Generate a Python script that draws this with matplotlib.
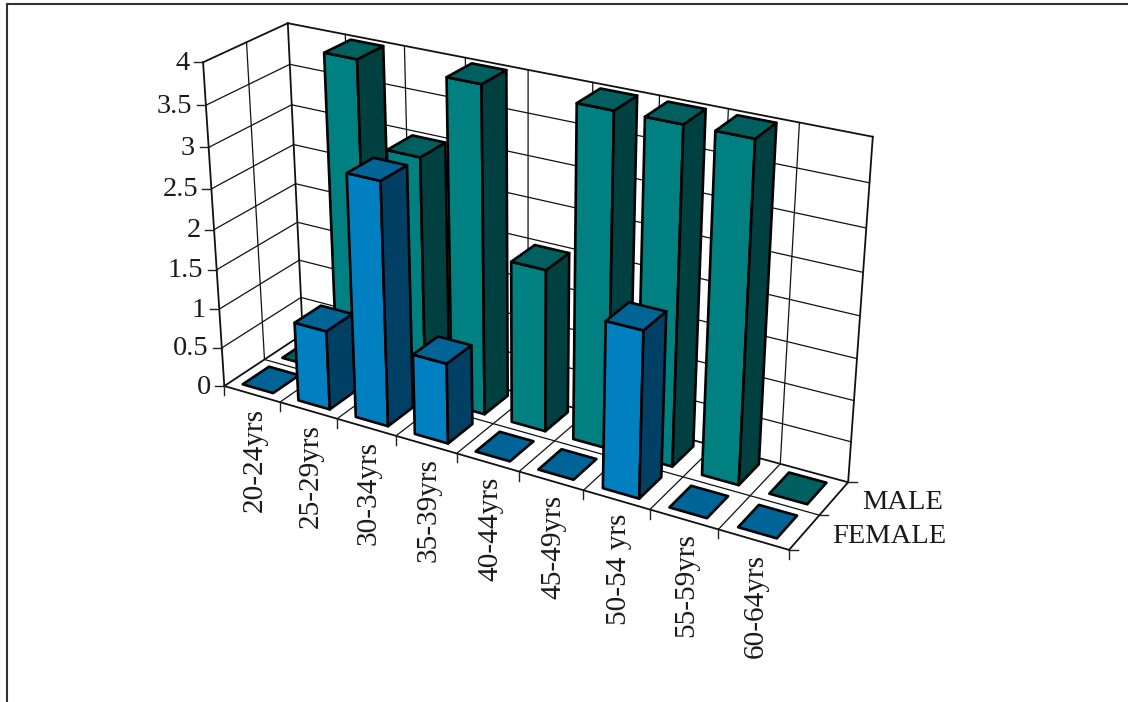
import numpy as np
import matplotlib
matplotlib.use("Agg")
import matplotlib.pyplot as plt
from matplotlib.patches import Polygon

# Chart data
categories = ["20-24yrs", "25-29yrs", "30-34yrs", "35-39yrs", "40-44yrs",
              "45-49yrs", "50-54 yrs", "55-59yrs", "60-64yrs"]
male = [0, 4, 3, 4, 2, 4, 4, 4, 0]
female = [0, 1, 3, 1, 0, 0, 2, 0, 0]
series_labels = ["FEMALE", "MALE"]
z_ticks = [0, 0.5, 1, 1.5, 2, 2.5, 3, 3.5, 4]
z_tick_labels = ["0", "0.5", "1", "1.5", "2", "2.5", "3", "3.5", "4"]

# Face colours: (front, side, top)
male_colors = ("#008080", "#004040", "#006060")
female_colors = ("#0080C0", "#004065", "#006496")

# Camera calibration: box corners (category, row, value) and their screen position
box_anchors = [
    ((0, 0, 0), (224.0, 385.0)), ((0, 0, 4), (203.5, 63.0)),
    ((0, 2, 0), (303.0, 336.0)), ((0, 2, 4), (287.0, 23.0)),
    ((9, 2, 0), (848.0, 481.0)), ((9, 2, 4), (873.0, 137.0)),
    ((9, 0, 0), (789.0, 551.0)), ((0, 0, 2), (214.0, 229.0)),
    ((0, 2, 2), (296.0, 183.0)),
]


def fit_camera(anchors):
    rows, rhs = [], []
    for (x, y, z), (u, v) in anchors:
        rows.append([x, y, z, 1, 0, 0, 0, 0, -u * x, -u * y, -u * z])
        rhs.append(u)
        rows.append([0, 0, 0, 0, x, y, z, 1, -v * x, -v * y, -v * z])
        rhs.append(v)
    sol = np.linalg.lstsq(np.array(rows, float), np.array(rhs, float), rcond=None)[0]
    return np.append(sol, 1.0).reshape(3, 4)


CAM = fit_camera(box_anchors)


def project(x, y, z):
    h = CAM @ np.array([x, y, z, 1.0])
    return h[0] / h[2], h[1] / h[2]


fig = plt.figure(figsize=(11.28, 7.02), dpi=100)
ax = fig.add_axes([0, 0, 1, 1])
ax.set_xlim(0, 1128)
ax.set_ylim(702, 0)
ax.axis("off")
plt.rcParams["font.family"] = ["Liberation Serif", "DejaVu Serif"]

TEXT = "#1a1a1a"
VALUE_FONT = 20.5
CATEGORY_FONT = 21.1
SERIES_FONT = 20.5


def line3(p, q, lw=1.0, color="#111111"):
    a, b = project(*p), project(*q)
    ax.plot([a[0], b[0]], [a[1], b[1]], color=color, lw=lw, solid_capstyle="projecting")


# Outer frame around the chart area
ax.plot([7, 7, 1128], [702, 3.5, 3.5], color="#333333", lw=1.5, solid_joinstyle="miter")

n = len(categories)
# Back and side wall gridlines
for z in z_ticks[1:-1]:
    line3((0, 0, z), (0, 2, z), 0.9)
    line3((0, 2, z), (n, 2, z), 0.9)
for i in range(1, n):
    line3((i, 2, 0), (i, 2, 4), 0.9)
    line3((i, 0, 0), (i, 2, 0), 0.9)
line3((0, 1, 0), (0, 1, 4), 0.9)
line3((0, 1, 0), (n, 1, 0), 0.9)

# Box outline
for p, q in [((0, 0, 0), (0, 0, 4)), ((0, 0, 4), (0, 2, 4)), ((0, 2, 4), (n, 2, 4)),
             ((n, 2, 4), (n, 2, 0)), ((0, 2, 4), (0, 2, 0)), ((0, 0, 0), (n, 0, 0)),
             ((n, 0, 0), (n, 2, 0)), ((0, 0, 0), (0, 2, 0)), ((0, 2, 0), (n, 2, 0))]:
    line3(p, q, 1.3)

# Tick marks and tick labels; value labels follow the slanted front edge
for z, lab in zip(z_ticks, z_tick_labels):
    u, v = project(0, 0, z)
    ax.plot([u - 9, u], [v, v], color="#222222", lw=1.0)
    ax.text(u - 13.5, v + 1, lab, ha="right", va="center", fontsize=VALUE_FONT, color=TEXT)
for i in range(n + 1):
    u, v = project(i, 0, 0)
    ax.plot([u, u], [v, v + 9], color="#222222", lw=1.0)
for i, lab in enumerate(categories):
    u, v = project(i + 0.5, 0, 0)
    ax.text(u + 2.5, v + 14, lab, rotation=90, ha="center", va="top",
            fontsize=CATEGORY_FONT, color=TEXT)
for r in range(3):
    u, v = project(n, r, 0)
    ax.plot([u, u + 9], [v, v], color="#222222", lw=1.0)
for r, lab in enumerate(series_labels):
    u, v = project(n, r + 0.5, 0)
    ax.text(u + 28, v + 4, lab, ha="left", va="center", fontsize=SERIES_FONT, color=TEXT)


def draw_bar(i, row, value, colors):
    x0, x1 = i + 0.2, i + 0.75
    y0, y1 = row + 0.18, row + 0.84
    faces = []
    if value > 0:
        faces.append(([(x0, y0, 0), (x1, y0, 0), (x1, y0, value), (x0, y0, value)], colors[0]))
        faces.append(([(x1, y0, 0), (x1, y1, 0), (x1, y1, value), (x1, y0, value)], colors[1]))
    faces.append(([(x0, y0, value), (x1, y0, value), (x1, y1, value), (x0, y1, value)], colors[2]))
    for corners, color in faces:
        ax.add_patch(Polygon([project(*c) for c in corners], closed=True, facecolor=color,
                             edgecolor="black", lw=1.9, joinstyle="round", zorder=3))


# Far row first, then near row; left to right within each row
for row, values, colors in [(1, male, male_colors), (0, female, female_colors)]:
    for i, value in enumerate(values):
        draw_bar(i, row, value, colors)

fig.savefig("out.png", dpi=100, facecolor="white")
